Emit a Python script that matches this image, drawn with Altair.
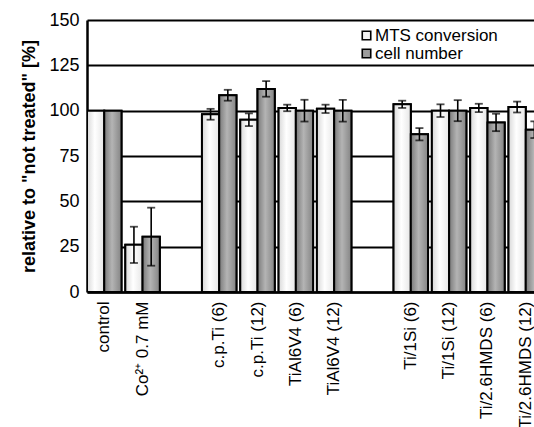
import altair as alt
import pandas as pd

# Sample groups along the x axis; two empty slots separate the controls, bulk alloys and coatings
slots = ["control", "Co²⁺ 0.7 mM", "gap1", "c.p.Ti (6)", "c.p.Ti (12)", "TiAl6V4 (6)",
         "TiAl6V4 (12)", "gap2", "Ti/1Si (6)", "Ti/1Si (12)", "Ti/2.6HMDS (6)", "Ti/2.6HMDS (12)"]

samples = ["control", "Co²⁺ 0.7 mM", "c.p.Ti (6)", "c.p.Ti (12)", "TiAl6V4 (6)",
           "TiAl6V4 (12)", "Ti/1Si (6)", "Ti/1Si (12)", "Ti/2.6HMDS (6)", "Ti/2.6HMDS (12)"]

# Mean values relative to the untreated control [%] and their standard deviations
mts_mean = [100, 26, 98, 95, 101.5, 101, 103.5, 100, 101.5, 102]
mts_err = [0, 10, 3, 3.5, 1.8, 2.3, 2, 3.5, 2.3, 3]
cell_mean = [100, 30.5, 108.5, 112, 100, 100, 87, 100, 93.5, 89.5]
cell_err = [0, 16, 3, 4.3, 6, 6, 3.4, 5.8, 4.8, 4.6]

series = ["MTS conversion", "cell number"]

rows = []
for i, s in enumerate(samples):
    rows.append({"sample": s, "series": series[0], "value": mts_mean[i], "err": mts_err[i]})
    rows.append({"sample": s, "series": series[1], "value": cell_mean[i], "err": cell_err[i]})
df = pd.DataFrame(rows)

FONT = "Liberation Sans"

# Shaded column fills, light for MTS conversion and mid grey for cell number
light_fill = alt.Gradient(
    gradient="linear", x1=0, x2=1, y1=0, y2=0,
    stops=[alt.GradientStop(color="#d8d8d8", offset=0),
           alt.GradientStop(color="#ffffff", offset=0.45),
           alt.GradientStop(color="#e6e6e6", offset=1)],
)
grey_fill = alt.Gradient(
    gradient="linear", x1=0, x2=1, y1=0, y2=0,
    stops=[alt.GradientStop(color="#7a7a7a", offset=0),
           alt.GradientStop(color="#b4b4b4", offset=0.45),
           alt.GradientStop(color="#848484", offset=1)],
)

x_scale = alt.Scale(domain=slots, range=[0, 456], paddingInner=0.1, paddingOuter=0)

x_enc = alt.X(
    "sample:N",
    scale=x_scale,
    axis=alt.Axis(
        title=None,
        labelAngle=-90,
        labelAlign="right",
        labelBaseline="middle",
        labelFont=FONT,
        labelFontSize=17,
        labelColor="black",
        labelPadding=9,
        labelExpr="indexof(datum.label, 'gap') == 0 ? '' : datum.label",
        ticks=False,
        domainColor="black",
        domainWidth=2.5,
        grid=False,
    ),
)
x_plain = alt.X("sample:N", scale=x_scale)
x_off = alt.XOffset("series:N", scale=alt.Scale(domain=series, paddingInner=0, paddingOuter=0))

y_scale = alt.Scale(domain=[0, 150], nice=False)

bars = alt.Chart(df).mark_bar(stroke="black", strokeWidth=2, clip=True).encode(
    x=x_enc,
    xOffset=x_off,
    y=alt.Y(
        "value:Q",
        scale=y_scale,
        axis=alt.Axis(
            title='relative to "not treated" [%]',
            titleFont=FONT,
            titleFontSize=18,
            titleFontWeight="bold",
            titleColor="black",
            titlePadding=10,
            values=[0, 25, 50, 75, 100, 125, 150],
            labelFont=FONT,
            labelFontSize=18,
            labelColor="black",
            labelPadding=8,
            ticks=False,
            domainColor="black",
            domainWidth=2.5,
            grid=True,
            gridColor="black",
            gridWidth=2,
            gridOpacity=1,
        ),
    ),
    color=alt.Color(
        "series:N",
        scale=alt.Scale(domain=series, range=["#f2f2f2", "#9c9c9c"]),
        legend=alt.Legend(
            title=None,
            orient="none",
            legendX=271,
            legendY=7,
            direction="vertical",
            symbolType="square",
            symbolSize=72,
            symbolStrokeColor="black",
            symbolStrokeWidth=1.6,
            symbolOpacity=1,
            labelFont=FONT,
            labelFontSize=17,
            labelColor="black",
            labelOffset=0,
            rowPadding=0,
        ),
    ),
)

shaded = alt.Chart(df).mark_bar(stroke="black", strokeWidth=2, clip=True).encode(
    x=x_plain,
    xOffset=x_off,
    y=alt.Y("value:Q", scale=y_scale),
    fill=alt.condition(alt.datum.series == series[0], alt.value(light_fill), alt.value(grey_fill)),
)

err_df = df[df["err"] > 0]
err_base = alt.Chart(err_df).transform_calculate(
    lo="datum.value - datum.err", hi="datum.value + datum.err"
)

err_rule = err_base.mark_rule(color="black", strokeWidth=1.6, clip=True).encode(
    x=x_plain,
    xOffset=x_off,
    y=alt.Y("lo:Q", scale=y_scale),
    y2="hi:Q",
)

caps = [
    err_base.mark_tick(color="black", size=8, thickness=1.8, clip=True).encode(
        x=x_plain,
        xOffset=x_off,
        y=alt.Y(f"{field}:Q", scale=y_scale),
    )
    for field in ["lo", "hi"]
]

chart = alt.layer(bars, shaded, err_rule, *caps).properties(
    width=447,
    height=272,
    autosize=alt.AutoSizeParams(type="none"),
    padding={"left": 87, "top": 20, "right": 0, "bottom": 135},
    background="white",
).configure_view(stroke=None)

chart.save("out.html", embed_options={"renderer": "svg", "actions": False})
